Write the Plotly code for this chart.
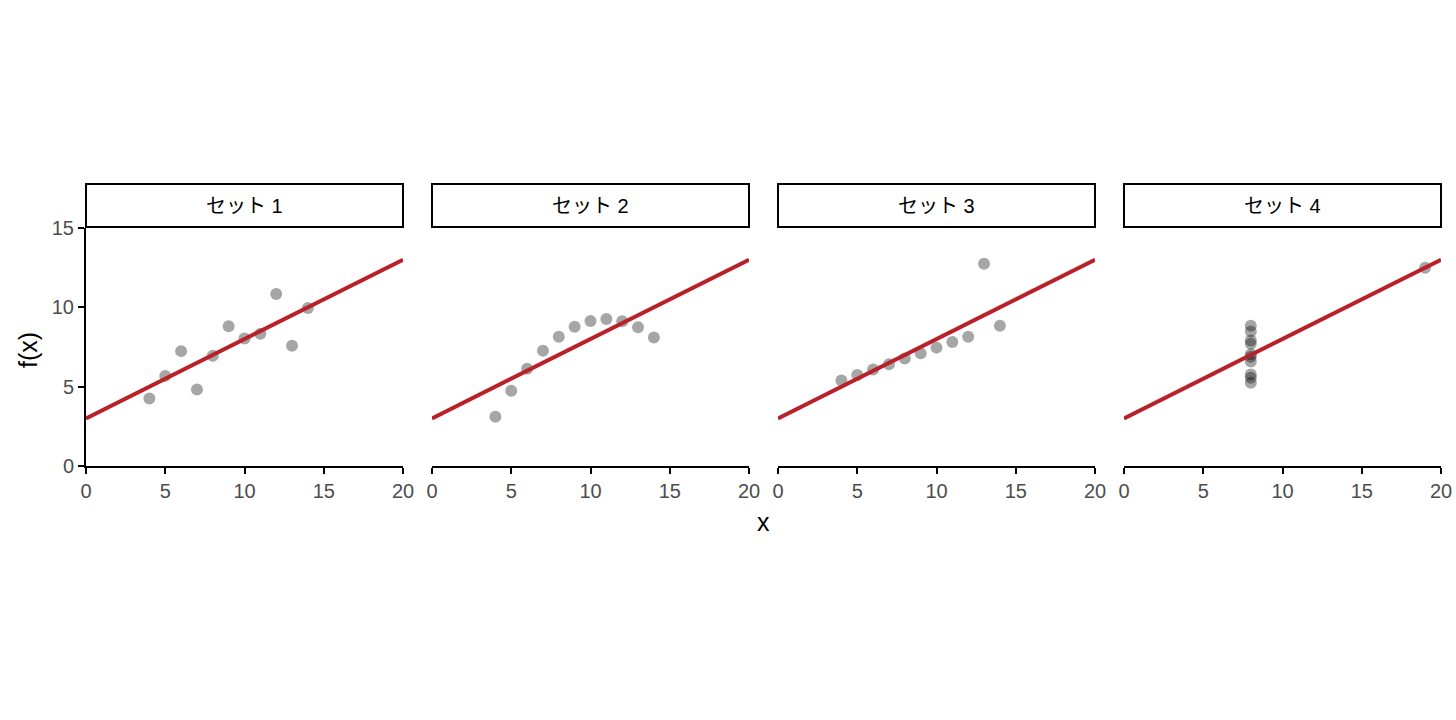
import plotly.graph_objects as go

# Anscombe-style data, four sets
x1 = [10, 8, 13, 9, 11, 14, 6, 4, 12, 7, 5]
y1 = [8.04, 6.95, 7.58, 8.81, 8.33, 9.96, 7.24, 4.26, 10.84, 4.82, 5.68]
x2 = [10, 8, 13, 9, 11, 14, 6, 4, 12, 7, 5]
y2 = [9.14, 8.14, 8.74, 8.77, 9.26, 8.10, 6.13, 3.10, 9.13, 7.26, 4.74]
x3 = [10, 8, 13, 9, 11, 14, 6, 4, 12, 7, 5]
y3 = [7.46, 6.77, 12.74, 7.11, 7.81, 8.84, 6.08, 5.39, 8.15, 6.42, 5.73]
x4 = [8, 8, 8, 8, 8, 8, 8, 19, 8, 8, 8]
y4 = [6.58, 5.76, 7.71, 8.84, 8.47, 7.04, 5.25, 12.50, 5.56, 7.91, 6.89]

fit_x = [0, 20]
fit_y = [3, 13]

panel_names = ["セット 1", "セット 2", "セット 3", "セット 4"]
xs = [x1, x2, x3, x4]
ys = [y1, y2, y3, y4]

W, H = 1456, 720
FONT = "Liberation Sans, Noto Sans CJK JP, sans-serif"
panel_px = [(86, 403), (432, 749), (778, 1095), (1124, 1441)]
y_dom = [1 - 466 / H, 1 - 228 / H]
strip_dom = [1 - 227 / H, 1 - 184 / H]

fig = go.Figure()
for i in range(4):
    n = "" if i == 0 else str(i + 1)
    fig.add_trace(go.Scatter(
        x=xs[i], y=ys[i], mode="markers", xaxis="x" + n, yaxis="y" + n,
        marker=dict(color="black", opacity=0.35, size=12, line=dict(width=0)),
        showlegend=False, hoverinfo="skip"))
    fig.add_trace(go.Scatter(
        x=fit_x, y=fit_y, mode="lines", xaxis="x" + n, yaxis="y" + n,
        line=dict(color="#b8202a", width=4),
        showlegend=False, hoverinfo="skip"))

    x0, x1p = panel_px[i]
    dom = [x0 / W, x1p / W]
    fig.layout["xaxis" + n] = dict(
        domain=dom, range=[0, 20], tickvals=[0, 5, 10, 15, 20], automargin=False,
        showgrid=False, zeroline=False, showline=True, linecolor="black", linewidth=2,
        ticks="outside", ticklen=6, tickwidth=2, tickcolor="black",
        tickfont=dict(size=20, color="#4d4d4d", family=FONT),
        anchor="y" + n, fixedrange=True)
    fig.layout["yaxis" + n] = dict(
        domain=y_dom, range=[0, 15], tickvals=[0, 5, 10, 15], automargin=False,
        showgrid=False, zeroline=False, showline=(i == 0), linecolor="black", linewidth=2,
        ticks="outside" if i == 0 else "", ticklen=6, tickwidth=2, tickcolor="black",
        showticklabels=(i == 0),
        tickfont=dict(size=20, color="#4d4d4d", family=FONT),
        anchor="x" + n, fixedrange=True)

    # strip header
    fig.add_shape(type="rect", xref="paper", yref="paper",
                  x0=dom[0], x1=dom[1], y0=strip_dom[0], y1=strip_dom[1],
                  line=dict(color="black", width=2), fillcolor="white")
    fig.add_annotation(x=(dom[0] + dom[1]) / 2, y=(strip_dom[0] + strip_dom[1]) / 2,
                       xref="paper", yref="paper", text=panel_names[i], showarrow=False,
                       xanchor="center", yanchor="middle",
                       font=dict(size=20, color="black", family=FONT))

fig.add_annotation(x=763 / W, y=1 - 522 / H, xref="paper", yref="paper", text="x",
                   showarrow=False, xanchor="center", yanchor="middle",
                   font=dict(size=25, color="black", family=FONT))
fig.add_annotation(x=28 / W, y=1 - 350 / H, xref="paper", yref="paper", text="f(x)",
                   textangle=-90, showarrow=False, xanchor="center", yanchor="middle",
                   font=dict(size=25, color="black", family=FONT))

fig.update_layout(
    width=W, height=H, margin=dict(l=0, r=0, t=0, b=0),
    plot_bgcolor="white", paper_bgcolor="white",
    font=dict(family=FONT))

fig.write_html("out.html", config={"displayModeBar": False},
               post_script="document.body.style.margin='0';")
